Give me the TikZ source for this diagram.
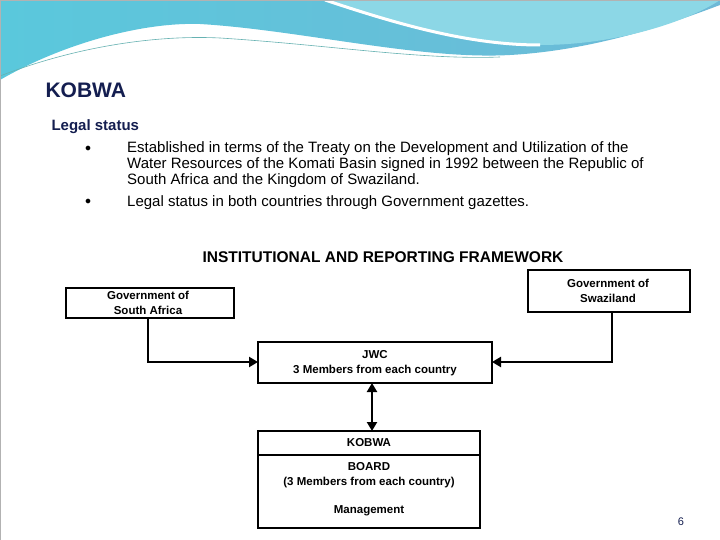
\documentclass[tikz,border=0pt]{standalone}
\usepackage{fontspec}
\setmainfont{Liberation Sans}
\usetikzlibrary{arrows.meta}
\definecolor{navy}{RGB}{20,30,80}
\definecolor{wave1}{RGB}{110,185,215}
\definecolor{wave2}{RGB}{140,215,230}
\definecolor{wave3}{RGB}{90,200,220}
\tikzset{x=1pt,y=-1pt,
 box/.style={draw,line width=1.2pt,fill=white},
 bt/.style={font=\fontsize{11.5}{14.5}\selectfont\bfseries,align=center,inner sep=0},
 body/.style={font=\fontsize{15}{16}\selectfont,anchor=north west,inner sep=0,align=left},
 conn/.style={line width=2.5pt,-{Triangle[length=9pt,width=10pt]}},
}
\begin{document}
\begin{tikzpicture}
\useasboundingbox (0,0) rectangle (720,540);
\fill[white] (0,0) rectangle (720,540);
% waves
\shade[left color=wave3,right color=wave1] (0,0) -- (0,80) .. controls (60,45) and (140,22) .. (200,24) .. controls (300,30) and (420,60) .. (510,55) .. controls (600,50) and (680,20) .. (720,5) -- (720,0) -- cycle;
\fill[wave2] (325,0) .. controls (400,25) and (470,45) .. (540,45) .. controls (620,45) and (690,20) .. (720,0) -- cycle;
\draw[white,line width=3pt] (325,0) .. controls (400,25) and (470,45) .. (540,45);
\draw[teal!60,line width=0.6pt] (0,76) .. controls (80,45) and (160,35) .. (220,38) .. controls (330,45) and (420,60) .. (500,57);
\draw[gray!60,line width=0.5pt] (0,0) rectangle (720,540);
% texts
\node[anchor=west,font=\fontsize{21}{22}\selectfont\bfseries,text=navy] (title) at (42,90) {KOBWA};
\node[anchor=west,font=\fontsize{15}{16}\selectfont\bfseries,text=navy] (ls) at (48,127) {Legal status};
\node (b1) at (88,149) {\fontsize{12}{12}\selectfont$\bullet$};
\node (b2) at (88,202) {\fontsize{12}{12}\selectfont$\bullet$};
\node[body] (t1) at (127,141) {Established in terms of the Treaty on the Development and Utilization of the\\Water Resources of the Komati Basin signed in 1992 between the Republic of\\South Africa and the Kingdom of Swaziland.};
\node[body] (t2) at (127,195) {Legal status in both countries through Government gazettes.};
\node[font=\fontsize{15.5}{16}\selectfont\bfseries] (head) at (383,257) {INSTITUTIONAL AND REPORTING FRAMEWORK};
% boxes
\draw[box] (66,288) rectangle (234,318);
\node[bt] (sa) at (148,303) {Government of\\South Africa};
\coordinate (saB) at (148,318);
\draw[box] (528,270) rectangle (690,312);
\node[bt] (sw) at (608,291) {Government of\\Swaziland};
\coordinate (swB) at (612,312);
\draw[box] (258,342) rectangle (492,383);
\node[bt] (jwc) at (375,363) {JWC\\3 Members from each country};
\coordinate (jwcL) at (258,362); \coordinate (jwcR) at (492,362); \coordinate (jwcB) at (372,383);
\draw[box] (258,431) rectangle (480,528);
\draw[line width=1.2pt] (258,455) -- (480,455);
\node[bt] (kob) at (369,443) {KOBWA};
\node[bt] (board) at (369,475) {BOARD\\(3 Members from each country)};
\node[bt] (mgmt) at (369,511) {Management};
\coordinate (kobT) at (372,431);
\draw[conn] (saB) |- (jwcL);
\draw[conn] (swB) |- (jwcR);
\draw[line width=2.5pt,{Triangle[length=9pt,width=10pt]}-{Triangle[length=9pt,width=10pt]}] (jwcB) -- (kobT);
\node[font=\fontsize{11}{12}\selectfont,text=navy] (pg) at (681,522) {6};
\end{tikzpicture}
\end{document}
